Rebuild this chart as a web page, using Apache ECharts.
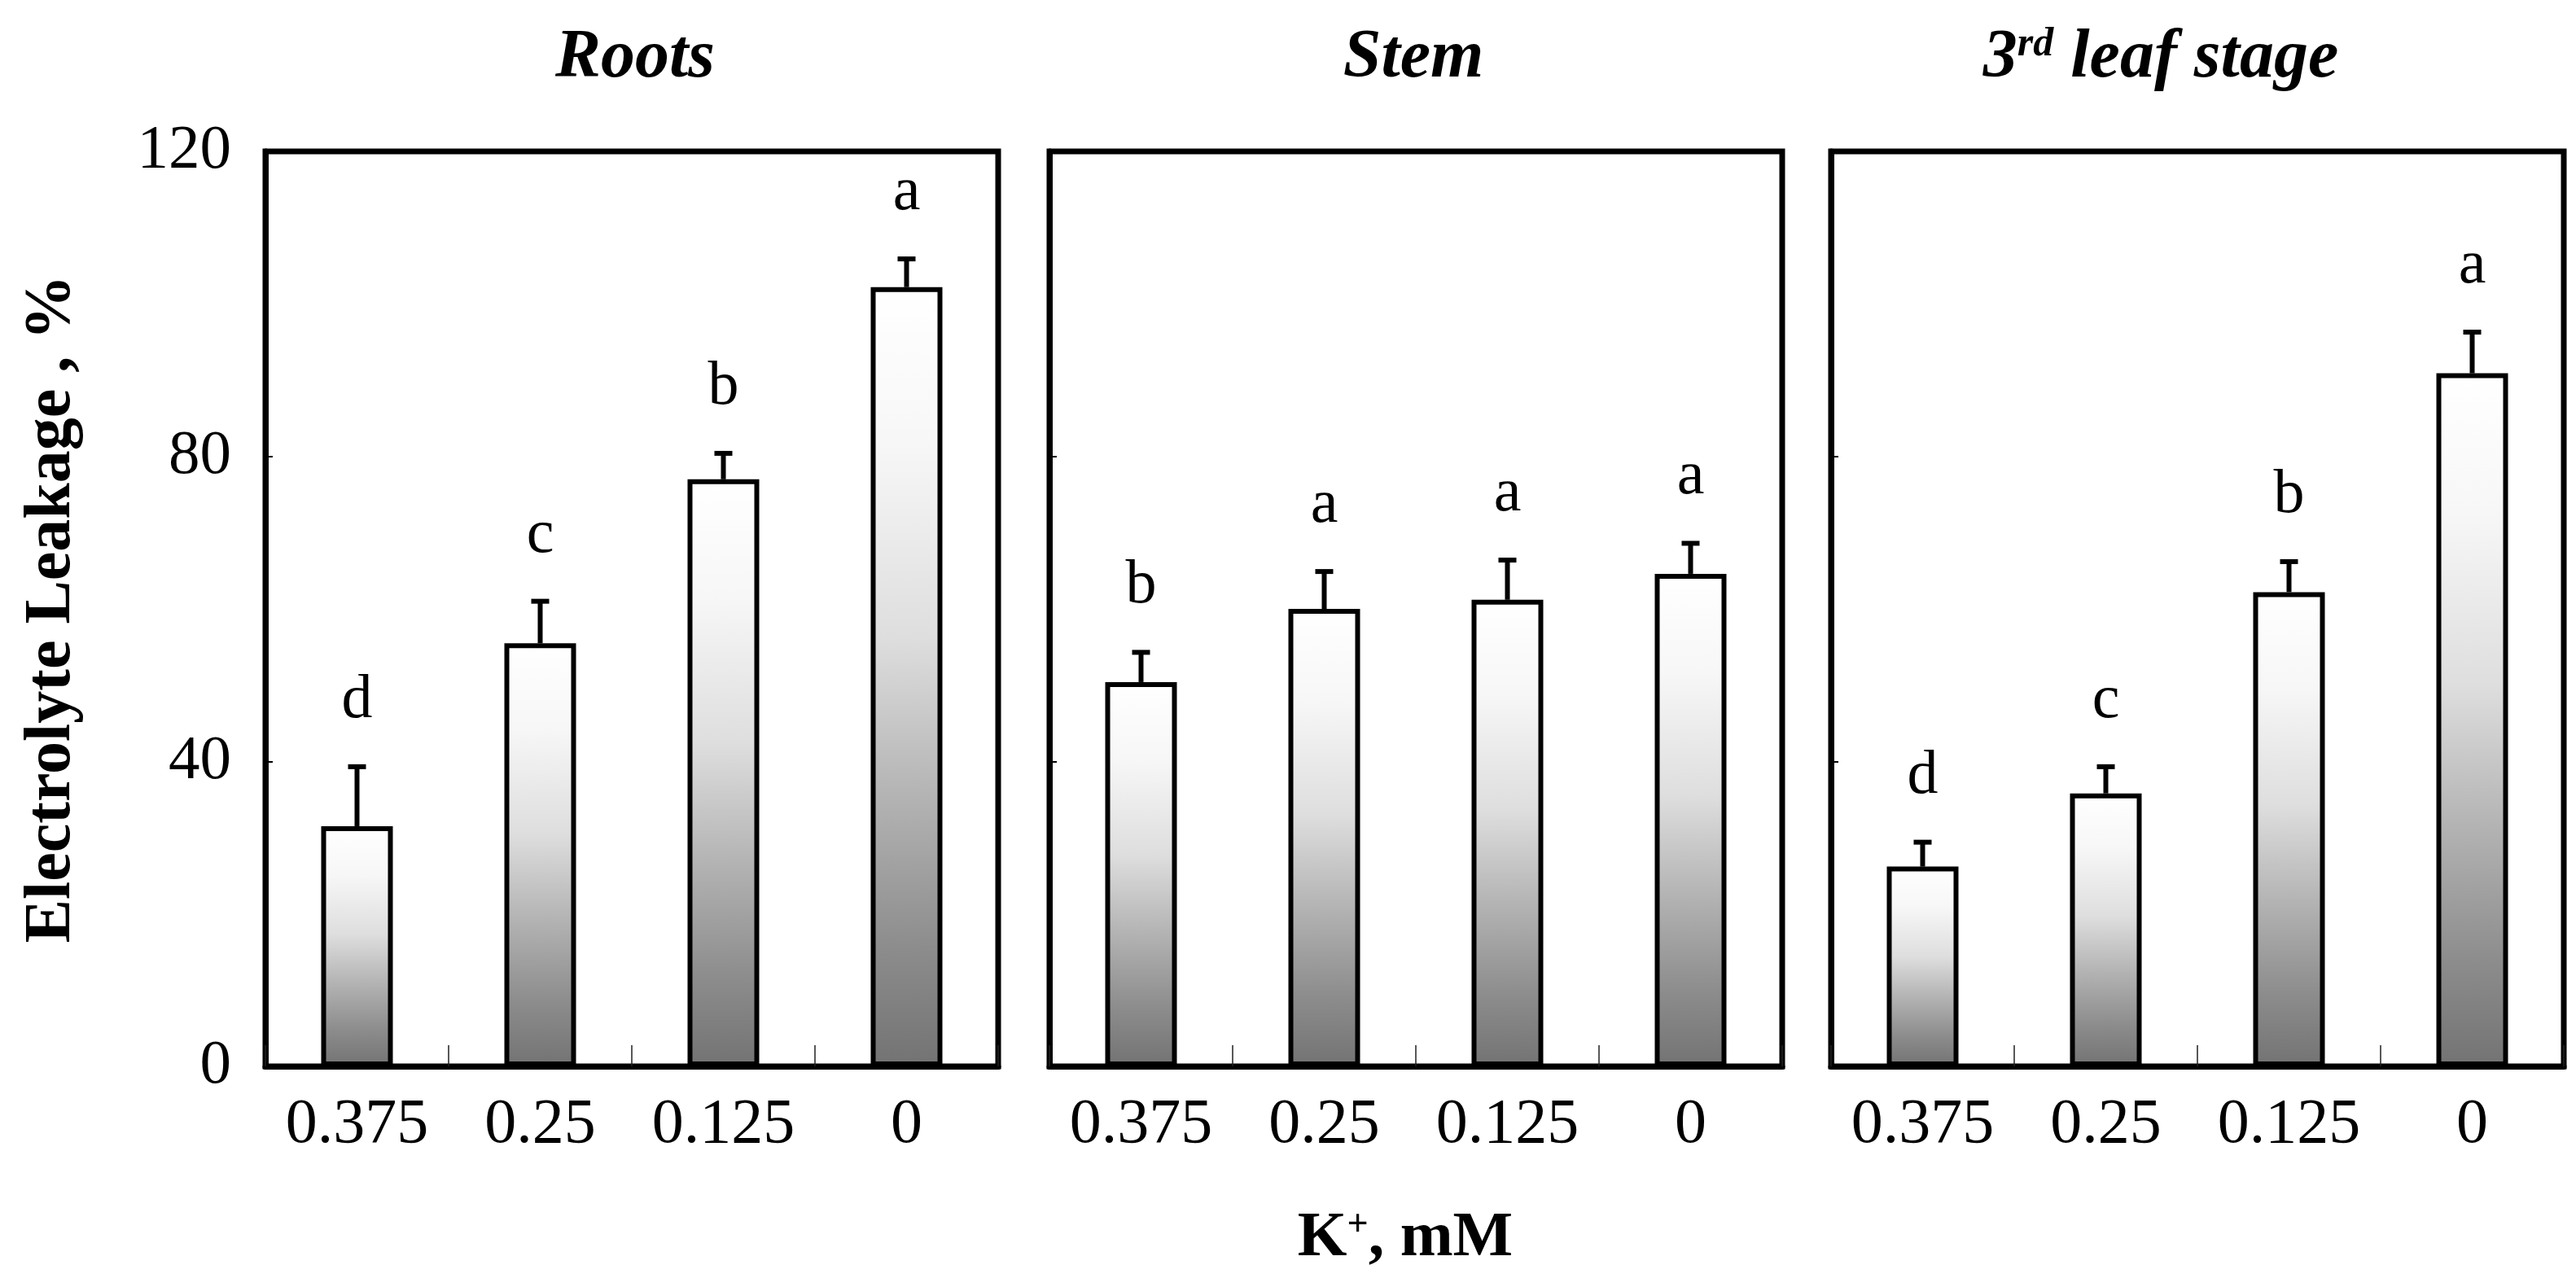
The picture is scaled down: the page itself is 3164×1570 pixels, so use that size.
<!DOCTYPE html>
<html>
<head>
<meta charset="utf-8">
<script src="https://cdn.jsdelivr.net/npm/echarts@6/dist/echarts.min.js"></script>
<style>
  html, body { margin: 0; padding: 0; background: #fff; }
  #chart { width: 3164px; height: 1570px; }
</style>
</head>
<body>
<div id="chart"></div>
<script>
// K+ concentration (mM) on the x axis
var categories = ['0.375', '0.25', '0.125', '0'];
var yTicks = [0, 40, 80, 120];

var rootsMean = [31.5, 55.5, 77.0, 102.2];
var rootsErr = [7.8, 5.5, 3.4, 3.7];
var rootsLetters = ['d', 'c', 'b', 'a'];

var stemMean = [50.4, 60.0, 61.2, 64.6];
var stemErr = [3.9, 4.9, 5.2, 4.0];
var stemLetters = ['b', 'a', 'a', 'a'];

var leafMean = [26.2, 35.8, 62.2, 90.9];
var leafErr = [3.2, 3.5, 4.0, 5.4];
var leafLetters = ['d', 'c', 'b', 'a'];

var FONT = '"Liberation Serif", "Times New Roman", serif';

var panels = [
    { mean: rootsMean, err: rootsErr, letters: rootsLetters, left: 326 },
    { mean: stemMean, err: stemErr, letters: stemLetters, left: 1289 },
    { mean: leafMean, err: leafErr, letters: leafLetters, left: 2249 }
];

var grids = [], xAxes = [], yAxes = [], series = [];

panels.forEach(function(p, i) {
    grids.push({
        left: p.left, top: 186, width: 900, height: 1124,
        show: true, borderColor: '#000', borderWidth: 7,
        backgroundColor: 'transparent'
    });

    xAxes.push({
        type: 'category', gridIndex: i, data: categories,
        axisLine: { show: true, lineStyle: { color: '#000', width: 7 } },
        axisTick: { show: true, interval: 0, inside: true, length: 26, lineStyle: { color: '#222', width: 1.5 } },
        axisLabel: { interval: 0, color: '#000', fontFamily: FONT, fontSize: 78, margin: 34 }
    });

    yAxes.push({
        type: 'value', gridIndex: i, min: yTicks[0], max: yTicks[yTicks.length - 1], interval: 40,
        axisLine: { show: true, lineStyle: { color: '#000', width: 7 } },
        axisTick: { show: true, inside: true, length: 9, lineStyle: { color: '#000', width: 2 } },
        splitLine: { show: false },
        axisLabel: {
            show: i === 0, color: '#000', fontFamily: FONT, fontSize: 77, margin: 42,
            padding: [0, 0, 64, 0]
        },
        name: i === 0 ? 'Electrolyte Leakage , %' : '',
        nameLocation: 'middle',
        nameGap: 222,
        nameTextStyle: { color: '#000', fontFamily: FONT, fontSize: 80, fontWeight: 'bold' }
    });

    series.push({
        type: 'bar', xAxisIndex: i, yAxisIndex: i,
        data: p.mean,
        barWidth: 88,
        itemStyle: {
            borderColor: '#000', borderWidth: 6,
            color: new echarts.graphic.LinearGradient(0, 0, 0, 1, [
                { offset: 0, color: '#ffffff' },
                { offset: 0.2, color: '#f7f7f7' },
                { offset: 0.45, color: '#dedede' },
                { offset: 0.65, color: '#b4b4b4' },
                { offset: 0.85, color: '#8c8c8c' },
                { offset: 1, color: '#737373' }
            ])
        },
        z: 2
    });

    // error bars + significance letters
    series.push({
        type: 'custom', xAxisIndex: i, yAxisIndex: i,
        data: p.mean.map(function(m, k) { return [k, m, p.err[k]]; }),
        encode: { x: 0, y: 1 },
        z: 3,
        renderItem: function(params, api) {
            var k = api.value(0);
            var lo = api.coord([k, api.value(1)]);
            var hi = api.coord([k, api.value(1) + api.value(2)]);
            return {
                type: 'group',
                children: [
                    { type: 'line', shape: { x1: lo[0], y1: lo[1], x2: hi[0], y2: hi[1] },
                      style: { stroke: '#000', lineWidth: 6 } },
                    { type: 'line', shape: { x1: hi[0] - 11, y1: hi[1], x2: hi[0] + 11, y2: hi[1] },
                      style: { stroke: '#000', lineWidth: 6 } },
                    { type: 'text', x: hi[0], y: hi[1] - 43,
                      style: { text: p.letters[k], fill: '#000', font: '76px ' + FONT,
                               textAlign: 'center', textVerticalAlign: 'bottom' } }
                ]
            };
        }
    });
});

var titleStyle = { color: '#000', fontFamily: FONT, fontSize: 84, fontStyle: 'italic', fontWeight: 'bold' };

var option = {
    backgroundColor: '#fff',
    animation: false,
    title: [
        { text: 'Roots', left: 775, top: 25, textAlign: 'center', textStyle: titleStyle },
        { text: 'Stem', left: 1731, top: 25, textAlign: 'center', textStyle: titleStyle },
        {
            text: '{n|3}{s|rd}{n| leaf stage}', left: 2649, top: 25, textAlign: 'center',
            textStyle: {
                rich: {
                    n: titleStyle,
                    s: { color: '#000', fontFamily: FONT, fontSize: 50, fontStyle: 'italic',
                         fontWeight: 'bold', verticalAlign: 'top' }
                }
            }
        },
        {
            text: '{b|K}{s|+}{b|, mM}', left: 1721, top: 1478, textAlign: 'center',
            textStyle: {
                rich: {
                    b: { color: '#000', fontFamily: FONT, fontSize: 78, fontWeight: 'bold' },
                    s: { color: '#000', fontFamily: FONT, fontSize: 46, fontWeight: 'bold', verticalAlign: 'top' }
                }
            }
        }
    ],
    grid: grids,
    xAxis: xAxes,
    yAxis: yAxes,
    series: series
};

var myChart = echarts.init(document.getElementById('chart'));
myChart.setOption(option);
</script>
</body>
</html>
